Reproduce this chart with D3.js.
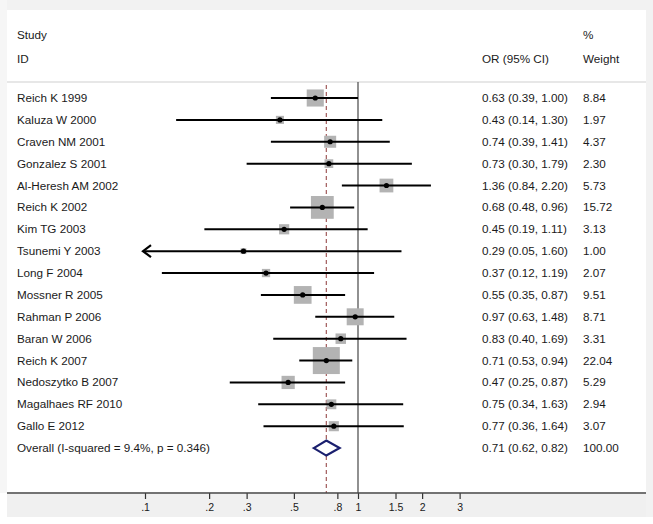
<!DOCTYPE html>
<html><head><meta charset="utf-8">
<script src="https://cdn.jsdelivr.net/npm/d3@7"></script>
<style>html,body{margin:0;padding:0;background:#fff}svg{display:block}text{font-family:"Liberation Sans",Arial,sans-serif}</style>
</head><body>
<script>
const studies = ["Reich K 1999","Kaluza W 2000","Craven NM 2001","Gonzalez S 2001","Al-Heresh AM 2002","Reich K 2002","Kim TG 2003","Tsunemi Y 2003","Long F 2004","Mossner R 2005","Rahman P 2006","Baran W 2006","Reich K 2007","Nedoszytko B 2007","Magalhaes RF 2010","Gallo E 2012"];
const orValues = [0.63,0.43,0.74,0.73,1.36,0.68,0.45,0.29,0.37,0.55,0.97,0.83,0.71,0.47,0.75,0.77];
const lowerCI = [0.39,0.14,0.39,0.30,0.84,0.48,0.19,0.05,0.12,0.35,0.63,0.40,0.53,0.25,0.34,0.36];
const upperCI = [1.00,1.30,1.41,1.79,2.20,0.96,1.11,1.60,1.19,0.87,1.48,1.69,0.94,0.87,1.63,1.64];
const weights = [8.84,1.97,4.37,2.30,5.73,15.72,3.13,1.00,2.07,9.51,8.71,3.31,22.04,5.29,2.94,3.07];
const overall = {label:"Overall  (I-squared = 9.4%, p = 0.346)", or:0.71, lo:0.62, hi:0.82, w:"100.00"};
const tickValues = [0.1,0.2,0.3,0.5,0.8,1,1.5,2,3];
const tickLabels = [".1",".2",".3",".5",".8","1","1.5","2","3"];

const W=653,H=524;
const svg=d3.select("body").append("svg").attr("width",W).attr("height",H);
svg.append("rect").attr("x",0).attr("y",0).attr("width",W).attr("height",H).attr("fill","#fff");
svg.append("rect").attr("x",0).attr("y",0).attr("width",W).attr("height",10).attr("fill","#f2f2f2");
svg.append("rect").attr("x",646).attr("y",0).attr("width",7).attr("height",517).attr("fill","#f2f2f2");
svg.append("rect").attr("x",0).attr("y",0).attr("width",7).attr("height",493).attr("fill","#f6f6f6");
svg.append("rect").attr("x",7).attr("y",494).attr("width",639).attr("height",23).attr("fill","#f0f0f0");

const x=d3.scaleLog().domain([0.1,1]).range([145,358]);
const y0=98, dy=21.88;
const yRow=i=>y0+i*dy;
const clipMin=0.1;
const FS=11.7;

const hdr=svg.append("g").attr("font-size",FS).attr("fill","#1a1a1a");
hdr.append("text").attr("x",17).attr("y",39).text("Study");
hdr.append("text").attr("x",17).attr("y",63).text("ID");
hdr.append("text").attr("x",482).attr("y",63).text("OR (95% CI)");
hdr.append("text").attr("x",583).attr("y",39).text("%");
hdr.append("text").attr("x",583).attr("y",63).text("Weight");
svg.append("line").attr("x1",7).attr("x2",646).attr("y1",82).attr("y2",82).attr("stroke","#d0d0d0").attr("stroke-width",1.2);

svg.append("line").attr("x1",x(1)).attr("x2",x(1)).attr("y1",82).attr("y2",493).attr("stroke","#555").attr("stroke-width",1.3);
svg.append("line").attr("x1",x(overall.or)).attr("x2",x(overall.or)).attr("y1",85).attr("y2",493)
  .attr("stroke","#a05a5a").attr("stroke-width",1.2).attr("stroke-dasharray","4,3");

const k=27/Math.sqrt(22.04);
svg.append("g").selectAll("rect").data(studies).join("rect")
  .attr("x",(d,i)=>x(orValues[i])-k*Math.sqrt(weights[i])/2)
  .attr("y",(d,i)=>yRow(i)-k*Math.sqrt(weights[i])/2)
  .attr("width",(d,i)=>k*Math.sqrt(weights[i]))
  .attr("height",(d,i)=>k*Math.sqrt(weights[i]))
  .attr("fill","#b3b3b3");
svg.append("g").selectAll("line").data(studies).join("line")
  .attr("x1",(d,i)=>x(Math.max(lowerCI[i],clipMin)))
  .attr("x2",(d,i)=>x(upperCI[i]))
  .attr("y1",(d,i)=>yRow(i)).attr("y2",(d,i)=>yRow(i))
  .attr("stroke","#000").attr("stroke-width",2);
studies.forEach((d,i)=>{
  if(lowerCI[i]<clipMin){
    const ax=x(clipMin)-2, ay=yRow(i);
    svg.append("path").attr("d",`M${ax+8},${ay-6}L${ax},${ay}L${ax+8},${ay+6}`)
      .attr("fill","none").attr("stroke","#000").attr("stroke-width",2.2);
  }
});
svg.append("g").selectAll("circle").data(studies).join("circle")
  .attr("cx",(d,i)=>x(orValues[i])).attr("cy",(d,i)=>yRow(i)).attr("r",2.6)
  .attr("fill","#000");

const oy=yRow(studies.length);
svg.append("path").attr("d",`M${x(overall.lo)},${oy}L${x(overall.or)},${oy-7.5}L${x(overall.hi)},${oy}L${x(overall.or)},${oy+7.5}Z`)
  .attr("fill","#fff").attr("stroke","#1a1f6e").attr("stroke-width",2.2);

const lab=svg.append("g").attr("font-size",FS).attr("fill","#1a1a1a");
const fmt=d3.format(".2f");
studies.forEach((d,i)=>{
  lab.append("text").attr("x",17).attr("y",yRow(i)+4).text(d);
  lab.append("text").attr("x",482).attr("y",yRow(i)+4).text(`${fmt(orValues[i])} (${fmt(lowerCI[i])}, ${fmt(upperCI[i])})`);
  lab.append("text").attr("x",583).attr("y",yRow(i)+4).text(fmt(weights[i]));
});
lab.append("text").attr("x",17).attr("y",oy+4).text(overall.label);
lab.append("text").attr("x",482).attr("y",oy+4).text(`${fmt(overall.or)} (${fmt(overall.lo)}, ${fmt(overall.hi)})`);
lab.append("text").attr("x",583).attr("y",oy+4).text(overall.w);

const axis=d3.axisBottom(x).tickValues(tickValues).tickFormat((d,i)=>tickLabels[i]).tickSize(6).tickPadding(5);
const ag=svg.append("g").attr("transform","translate(0,493)").call(axis);
ag.select(".domain").remove();
ag.selectAll("line").attr("stroke","#333").attr("stroke-width",1.2);
ag.selectAll("text").attr("font-size",10.5).attr("fill","#1a1a1a").attr("font-family","Liberation Sans, Arial, sans-serif");
svg.append("line").attr("x1",7).attr("x2",646).attr("y1",493).attr("y2",493).attr("stroke","#444").attr("stroke-width",1.5);
</script>
</body></html>
